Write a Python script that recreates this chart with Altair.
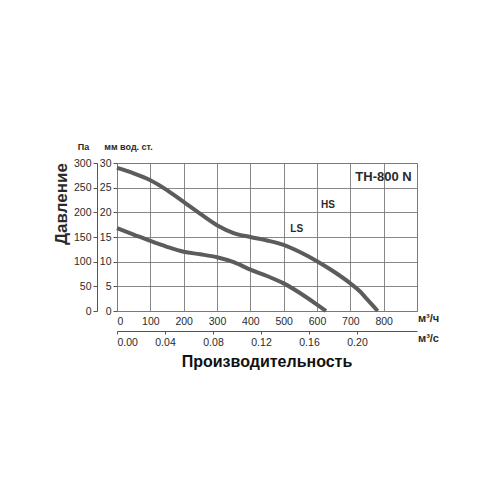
import altair as alt
import pandas as pd

# --- data ---
hs_q = [0, 50, 100, 150, 200, 250, 300, 350, 400, 450, 500, 550, 600, 650, 700, 730, 750, 765, 782]
hs_p = [290, 279, 265, 245, 221, 197, 174, 158, 150, 143, 134, 119, 101, 80, 56, 39, 24, 13, 0]
ls_q = [0, 50, 100, 150, 200, 250, 300, 350, 400, 450, 500, 550, 600, 627]
ls_p = [168, 155, 142, 130, 120, 115, 109, 99, 84, 71, 56, 36, 13, 0]

q_ticks = [0, 100, 200, 300, 400, 500, 600, 700, 800]
pa_ticks = [0, 50, 100, 150, 200, 250, 300]
mm_ticks = [0, 5, 10, 15, 20, 25, 30]
qs_ticks = [0.0, 0.04, 0.08, 0.12, 0.16, 0.20]

label_text = ["HS", "LS"]
label_q = [633, 539]
label_p = [214, 166]
model_name = "TH-800 N"
model_q = [884]
model_p = [272]

df = pd.concat([
    pd.DataFrame({"q": hs_q, "p": hs_p, "series": "HS"}),
    pd.DataFrame({"q": ls_q, "p": ls_p, "series": "LS"}),
], ignore_index=True)
df["mm"] = df["p"] / 10
df["qs"] = df["q"] / 3600

lab_df = pd.DataFrame({"q": label_q, "p": label_p, "t": label_text})
model_df = pd.DataFrame({"q": model_q, "p": model_p, "t": [model_name]})
ylab_df = pd.DataFrame({"t": ["Давление"]})

NARROW = "Liberation Sans Narrow, Liberation Sans, Arial, sans-serif"
BOLD = "Liberation Sans, Arial, sans-serif"
GRID = "#7a7a7a"
TXT = "#2a2a2a"

xq = alt.X(
    "q:Q",
    scale=alt.Scale(domain=[0, 900], nice=False, zero=False),
    axis=alt.Axis(
        orient="bottom", values=q_ticks, grid=True, gridColor=GRID, gridWidth=0.9,
        ticks=False, domain=False, labelPadding=5, labelFontSize=10.5, labelFont=NARROW,
        labelColor=TXT, title="м³/ч", titleX=311, titleY=7, titleAlign="center",
        titleBaseline="middle", titleFontSize=11, titleFontWeight="bold", titleFont=BOLD,
        titleColor=TXT,
    ),
)
yp = alt.Y(
    "p:Q",
    scale=alt.Scale(domain=[0, 300], nice=False, zero=False),
    axis=alt.Axis(
        orient="left", offset=20, values=pa_ticks, grid=False, domain=True,
        domainColor="#555", tickColor="#555", tickSize=4, labelPadding=2,
        labelFontSize=10.5, labelFont=NARROW, labelColor=TXT,
        title="Па", titleAngle=0, titleX=-14, titleY=-17, titleAlign="center",
        titleBaseline="middle", titleFontSize=9, titleFontWeight="bold", titleFont=BOLD,
        titleColor=TXT,
    ),
)

lines = alt.Chart(df).mark_line(
    strokeWidth=4, color="#5c5c5c", interpolate="monotone"
).encode(x=xq, y=yp, detail="series:N")

labels = alt.Chart(lab_df).mark_text(
    fontSize=10, fontWeight="bold", font=BOLD, color=TXT
).encode(x=xq, y=yp, text="t:N")

model = alt.Chart(model_df).mark_text(
    fontSize=13, fontWeight="bold", font=NARROW, color=TXT, align="right", baseline="middle"
).encode(x=xq, y=yp, text="t:N")

ylab = alt.Chart(ylab_df).mark_text(
    fontSize=17, fontWeight="bold", font=BOLD, color=TXT, angle=270,
    align="center", baseline="middle"
).encode(text="t:N", x=alt.value(-55), y=alt.value(41))

inner = alt.layer(lines, labels, model, ylab)

aux = alt.Chart(df).mark_point(opacity=0).encode(
    x=alt.X(
        "qs:Q",
        scale=alt.Scale(domain=[0, 0.25], nice=False, zero=False),
        axis=alt.Axis(
            orient="bottom", offset=20, values=qs_ticks, format=".2f", grid=False,
            domain=True, domainColor="#555", tickColor="#555", tickSize=3,
            labelPadding=3, labelFontSize=10.5, labelFont=NARROW, labelColor=TXT,
            title="м³/с", titleX=311, titleY=7, titleAlign="center",
            titleBaseline="middle", titleFontSize=11, titleFontWeight="bold",
            titleFont=BOLD, titleColor=TXT,
        ),
    ),
    y=alt.Y(
        "mm:Q",
        scale=alt.Scale(domain=[0, 30], nice=False, zero=False),
        axis=alt.Axis(
            orient="left", offset=0, values=mm_ticks, grid=True, gridColor=GRID,
            gridWidth=0.9, domain=False, tickColor="#555", tickSize=4, labelPadding=2,
            labelFontSize=10.5, labelFont=NARROW, labelColor=TXT,
            title="мм вод. ст.", titleAngle=0, titleX=11, titleY=-17,
            titleAlign="center", titleBaseline="middle", titleFontSize=9,
            titleFontWeight="bold", titleFont=BOLD, titleColor=TXT,
        ),
    ),
)

chart = alt.layer(inner, aux).resolve_scale(
    x="independent", y="independent"
).properties(
    width=300,
    height=148,
    autosize=alt.AutoSizeParams(type="none"),
    padding={"left": 109, "top": 155, "right": 75, "bottom": 181},
    background="white",
    title=alt.TitleParams(
        "Производительность", orient="bottom", fontSize=16, fontWeight="bold",
        font=BOLD, color="#111", offset=6, anchor="middle",
    ),
).configure_view(stroke=GRID, strokeWidth=1)

chart.save("out.html", embed_options={"renderer": "svg", "actions": False})
